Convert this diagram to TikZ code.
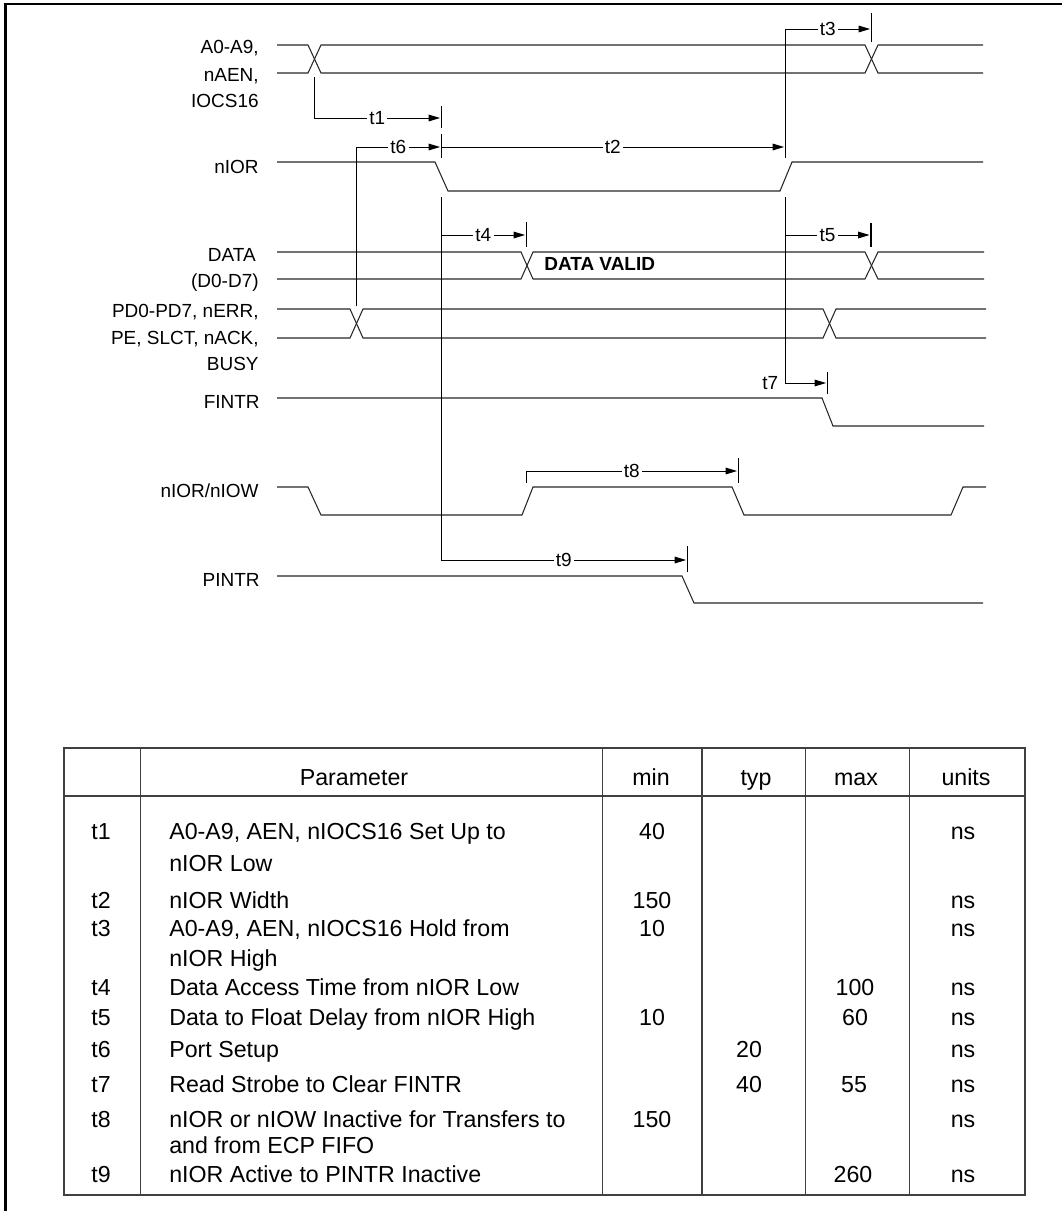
\documentclass[tikz,border=0pt]{standalone}
\usepackage{fontspec}
\setmainfont{Liberation Sans}
\usetikzlibrary{arrows.meta,positioning}
\newcommand{\sigsize}{\fontsize{10.8}{15}\selectfont}
\newcommand{\tblsize}{\fontsize{13.2}{17}\selectfont}
\tikzset{
  sig/.style={line width=0.6pt, black!85},
  tline/.style={line width=0.55pt},
  tarr/.style={tline, -{Triangle[length=6.5pt, width=3.8pt]}},
  tickmark/.style={line width=0.6pt},
  tlab/.style={fill=white, inner sep=1.3pt, font=\sigsize},
  siglab/.style={anchor=base east, inner sep=0pt, font=\sigsize},
  tblline/.style={line width=0.7pt, black!75},
  tbltxt/.style={anchor=base, inner sep=0pt, font=\tblsize},
  partxt/.style={tbltxt, anchor=base west},
}
\begin{document}
\begin{tikzpicture}[x=0.02cm, y=-0.02cm]
  \useasboundingbox (0,0) rectangle (1062,1211);
  % frame
  \draw[line width=1.3pt] (5.5,1211) -- (5.5,4) -- (1062,4);

  % signal names
  \foreach \n/\txt/\xr/\yb in {a1/{A0-A9,}/259/53.5, a2/{nAEN,}/259/81, a3/IOCS16/259/107,
      ior/nIOR/259/173, d1/DATA/256/261.5, d2/{(D0-D7)}/259/287,
      p1/{PD0-PD7, nERR,}/259/317, p2/{PE, SLCT, nACK,}/259/344, p3/BUSY/259/370.5,
      fint/FINTR/260/408, iow/{nIOR/nIOW}/259/497, pint/PINTR/260/586.5}
    \node[siglab] (\n) at (\xr,\yb) {\txt};

  % waveforms
  \draw[sig] (277,45) -- (308,45) -- (321,73) -- (865,73) -- (878,45) -- (983,45);
  \draw[sig] (277,73) -- (308,73) -- (321,45) -- (865,45) -- (878,73) -- (983,73);
  \draw[sig] (277,162) -- (435,162) -- (448,191) -- (780,191) -- (792,162) -- (983,162);
  \draw[sig] (277,252) -- (521,252) -- (533,279) -- (865,279) -- (878,252) -- (984,252);
  \draw[sig] (277,279) -- (521,279) -- (533,252) -- (865,252) -- (878,279) -- (984,279);
  \draw[sig] (277,309) -- (350,309) -- (363,338) -- (823,338) -- (836,309) -- (986,309);
  \draw[sig] (277,338) -- (350,338) -- (363,309) -- (823,309) -- (836,338) -- (986,338);
  \draw[sig] (277,398) -- (822,398) -- (833,426) -- (984,426);
  \draw[sig] (277,487) -- (308,487) -- (321,515) -- (522,515) -- (533,487) -- (732,487)
    -- (744,515) -- (951,515) -- (963,487) -- (986,487);
  \draw[sig] (277,576) -- (682,576) -- (694,603) -- (983,603);
  \node[anchor=base west, inner sep=0pt, font=\sigsize\bfseries] (valid) at (544,270.5) {DATA VALID};

  % timing markers
  \coordinate (achg) at (314.5,77);
  \coordinate (t1end) at (440,118);
  \coordinate (pchg) at (356.7,306);
  \coordinate (t6end) at (440,147);
  \coordinate (iorlo) at (441.7,147);
  \coordinate (t2end) at (784,147);
  \coordinate (iorhi) at (785.7,158);
  \coordinate (t3end) at (870,29);
  \coordinate (lodn) at (441.7,197);
  \coordinate (t4start) at (441.7,235);
  \coordinate (t4end) at (525,235);
  \coordinate (hidn) at (785.7,197);
  \coordinate (t5start) at (785.7,235);
  \coordinate (t5end) at (869.5,235);
  \coordinate (t7end) at (826,383);
  \coordinate (t8start) at (526.7,483);
  \coordinate (t8end) at (737,471);
  \coordinate (t9end) at (686,560);

  \draw[tarr] (achg) |- node[tlab, pos=0.75] (lt1) {t1} (t1end);
  \draw[tarr] (pchg) |- node[tlab, pos=0.75] (lt6) {t6} (t6end);
  \draw[tarr] (iorlo) -- node[tlab] (lt2) {t2} (t2end);
  \draw[tarr] (iorhi) |- node[tlab, pos=0.75] (lt3) {t3} (t3end);
  \draw[tarr] (t4start) -- node[tlab] (lt4) {t4} (t4end);
  \draw[tarr] (t5start) -- node[tlab] (lt5) {t5} (t5end);
  \draw[tarr] (hidn) |- node[pos=0.5, anchor=east, xshift=-4pt, inner sep=0pt, font=\sigsize] (lt7) {t7} (t7end);
  \draw[tarr] (t8start) |- node[tlab, pos=0.75] (lt8) {t8} (t8end);
  \draw[tarr] (lodn) |- node[tlab, pos=0.75] (lt9) {t9} (t9end);
  \foreach \x/\ya/\yb in {441.7/106/128, 441.7/134/158, 871.7/13/42, 526.7/222/247,
      871/223/247, 827.7/372/394, 738.3/458/483, 687.7/546/572}
    \draw[tickmark] (\x,\ya) -- (\x,\yb);

  % table
  \draw[tblline] (64,748) rectangle (1025,1195);
  \draw[tblline] (64,796) -- (1025,796);
  \foreach \x in {140.3,602.3,702,805.7,909.7}
    \draw[tblline] (\x,748) -- (\x,1195);
  \node[tbltxt] (hpar) at (354,785) {Parameter};
  \node[tbltxt] (hmin) at (651,785) {min};
  \node[tbltxt] (htyp) at (756,785) {typ};
  \node[tbltxt] (hmax) at (856,785) {max};
  \node[tbltxt] (hunit) at (966,785) {units};
  \foreach \id/\yb in {1/839, 2/908, 3/936, 4/995, 5/1025, 6/1057, 7/1092, 8/1127, 9/1182}{
    \node[tbltxt] (id\id) at (101,\yb) {t\id};
    \node[tbltxt] (ns\id) at (963,\yb) {ns};
  }
  \foreach \n/\txt/\yb in {p1/{A0-A9, AEN, nIOCS16 Set Up to}/839, p1b/{nIOR Low}/871,
      p2/{nIOR Width}/908, p3/{A0-A9, AEN, nIOCS16 Hold from}/936, p3b/{nIOR High}/966,
      p4/{Data Access Time from nIOR Low}/995, p5/{Data to Float Delay from nIOR High}/1025,
      p6/{Port Setup}/1057, p7/{Read Strobe to Clear FINTR}/1092,
      p8/{nIOR or nIOW Inactive for Transfers to}/1127, p8b/{and from ECP FIFO}/1153,
      p9/{nIOR Active to PINTR Inactive}/1182}
    \node[partxt] (\n) at (169,\yb) {\txt};
  \foreach \n/\txt/\xc/\yb in {m1/40/652/839, m2/150/652/908, m3/10/652/936, m5/10/652/1025,
      m8/150/652/1127, y6/20/749/1057, y7/40/749/1092, x4/100/855/995, x5/60/855/1025,
      x7/55/854/1092, x9/260/853/1182}
    \node[tbltxt] (\n) at (\xc,\yb) {\txt};
\end{tikzpicture}
\end{document}
